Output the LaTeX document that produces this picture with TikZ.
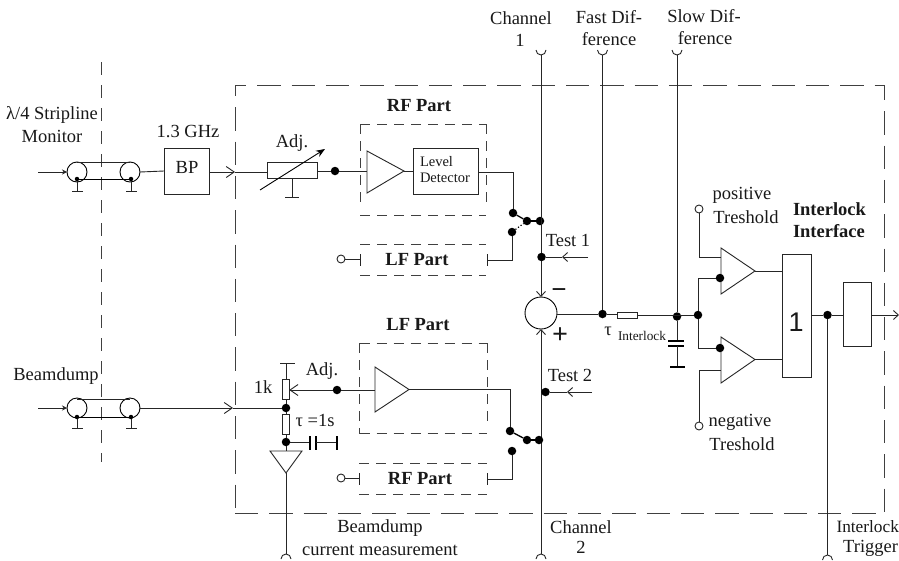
\documentclass[tikz,border=0pt]{standalone}
\usepackage{fontspec}
\setmainfont{Liberation Serif}
\newfontfamily\sansone{Liberation Sans}
\usetikzlibrary{arrows.meta}
\tikzset{
  wire/.style={line width=0.9pt,draw=black!85},
  arr/.style={wire,-{Straight Barb[length=5pt,width=9pt,line width=0.9pt]}},
  bigarr/.style={wire,-{Straight Barb[length=8pt,width=11pt,line width=0.9pt]}},
  inarr/.style={wire,-{Stealth[length=5pt,width=5pt]}},
  dot/.style={circle,fill=black,inner sep=0pt,minimum size=8.5pt,outer sep=0pt},
  smalldot/.style={circle,fill=black,inner sep=0pt,minimum size=4.5pt,outer sep=0pt},
  term/.style={circle,draw=black!85,line width=0.9pt,fill=white,inner sep=0pt,minimum size=8pt,outer sep=0pt},
  boxn/.style={draw=black!85,line width=0.9pt,inner sep=0pt,outer sep=0pt,fill=white},
  coup/.style={circle,draw=black,line width=0.9pt,inner sep=0pt,minimum size=20pt,outer sep=0pt},
  maindash/.style={line width=0.9pt,draw=black!75,dash pattern=on 23.3pt off 11pt},
  leftdash/.style={line width=0.9pt,draw=black!75,dash pattern=on 13pt off 10pt},
  subdash/.style={line width=0.9pt,draw=black!75,dash pattern=on 10pt off 7pt},
  txt/.style={inner sep=0pt,outer sep=0pt,font=\fontsize{18.5}{22}\selectfont,align=center,text=black!90},
  btxt/.style={txt,font=\fontsize{18.5}{22}\selectfont\bfseries},
  tiny/.style={txt,font=\fontsize{14.5}{16}\selectfont},
}
\begin{document}
\begin{tikzpicture}[x=1pt,y=-1pt]
\useasboundingbox (0,0) rectangle (899,560);
\clip (0,0) rectangle (899,560);
\fill[white] (0,0) rectangle (899,560);
% dashed frames
\draw[leftdash] (101,62) -- (101,462);
\draw[maindash,dash phase=12pt] (235,85) -- (884,85);
\draw[maindash,dash phase=12pt] (235,85) -- (235,513);
\draw[maindash,dash phase=8pt] (884,85) -- (884,513);
\draw[maindash] (235,513) -- (884,513);
\draw[subdash] (360,124) -- (486,124);
\draw[subdash] (360,124) -- (360,204);
\draw[subdash] (486,124) -- (486,204);
\draw[subdash] (360,215) -- (486,215);
\draw[subdash] (359.5,343) -- (487,343);
\draw[subdash] (359.5,343) -- (359.5,433.5);
\draw[subdash] (487,343) -- (487,425);
\draw[subdash] (359.5,433.5) -- (487,433.5);
\draw[subdash] (360,244) -- (486,244);
\draw[subdash] (360,275) -- (486,275);
\draw[subdash] (359,463) -- (487,463);
\draw[subdash] (359,494) -- (487,494);
% ---- upper coupler
\node[coup] (c1) at (77,172) {};
\node[coup] (c2) at (130,172) {};
\coordinate (c1t) at (77,162); \coordinate (c2t) at (130,162);
\node[smalldot] (c1b) at (77,179) {}; \node[smalldot] (c2b) at (131,179) {};
\draw[wire] (c1t) -- (c2t);
\draw[wire,draw=black] (c1b) -- (c2b);
\coordinate (g1) at (77,191); \coordinate (g2) at (131,191);
\draw[wire] (c1b) -- (g1) (72,191) -- (83,191);
\draw[wire] (c2b) -- (g2) (126,191) -- (137,191);
\coordinate (in1) at (38,172);
\draw[inarr] (in1) -- (c1.west);
% BP
\node[boxn,minimum width=45pt,minimum height=46pt] (bp) at (186.5,171) {};
\node[txt] (bpt) at (187,167) {BP};
\node[txt] (ghz) at (188,132) {1.3 GHz};
\draw[wire] (c2.east) -- (bp.west);
\coordinate (a1) at (235,172);
\node[boxn,minimum width=50pt,minimum height=16pt] (adjr) at (292,170) {};
\draw[bigarr] (bp.east |- a1) -- (a1);
\draw[wire] (a1) -- (adjr.west |- a1);
\coordinate (adjg) at (292,197);
\draw[wire] (adjr.south) -- (adjg) (285,197) -- (299,197);
\coordinate (ars) at (260,190); \coordinate (are) at (325,149);
\draw[line width=0.9pt,-{Stealth[length=9pt,width=7pt]}] (ars) -- (are);
\node[dot] (d1) at (335,171) {};
\draw[wire] (adjr.east |- d1) -- (d1);
\node[txt] (adjt) at (292,143) {Adj.};
\node[txt] (lam) at (52,115) {λ/4 Stripline};
\node[txt] (mon) at (52,136) {Monitor};
% RF part
\node[btxt] (rft) at (419,106) {RF Part};
\coordinate (t1a) at (367,151); \coordinate (t1b) at (367,193); \coordinate (t1c) at (404,171);
\draw[wire,fill=white] (t1a) -- (t1b) -- (t1c) -- cycle;
\draw[wire] (d1) -- (d1 -| t1a);
\node[boxn,minimum width=65pt,minimum height=46pt] (ld) at (445.5,171) {};
\draw[wire] (t1c) -- (ld.west |- t1c);
\node[tiny,anchor=west] (ld1) at (420,162) {Level};
\node[tiny,anchor=west] (ld2) at (420,178) {Detector};
\node[dot] (s1a) at (513,213) {};
\node[dot] (s1m) at (527,221) {};
\node[dot] (s1r) at (540,221) {};
\node[dot] (s1b) at (512,232) {};
\coordinate (ldo) at (513,172);
\draw[wire] (ld.east |- ldo) -- (ldo) -- (s1a);
\draw[line width=1.3pt] (s1a) -- (s1m);
\draw[line width=1.3pt] (s1m) -- (s1r);
\draw[line width=1.2pt,dotted] (s1b) -- (s1m);
\coordinate (lf1) at (512,260); \coordinate (lf1e) at (487,260);
\draw[wire] (s1b) -- (lf1) -- (lf1e) (487,254) -- (487,266);
\node[term] (lf1c) at (341,259) {};
\coordinate (lf1w) at (360,259);
\draw[wire] (lf1c) -- (lf1w) (360,254) -- (360,266);
\node[btxt] (lf1t) at (417,260) {LF Part};
% channel 1 / difference block
\node[circle,draw=black,line width=0.9pt,inner sep=0pt,minimum size=32pt,outer sep=0pt] (sum) at (541,313) {};
\coordinate (ch1) at (541,55);
\draw[arr] (ch1) -- (sum.north);
\draw[wire] (536,50) arc[start angle=180,end angle=0,radius=5];
\node[dot] (t1d) at (541.5,257) {};
\coordinate (t1i) at (588,257); \coordinate (t1h) at (562,257);
\draw[arr] (t1i) -- (t1h);
\draw[wire] (t1h) -- (t1d);
\node[txt] (t1t) at (568,240) {Test 1};
\node[txt] (ch1a) at (521,18) {Channel};
\node[txt] (ch1b) at (520,40) {1};
\node[txt] (fd1) at (609,17) {Fast Dif-};
\node[txt] (fd2) at (609,39) {ference};
\node[txt] (sd1) at (704,16) {Slow Dif-};
\node[txt] (sd2) at (705,38) {ference};
\node[txt,font=\fontsize{27}{27}\selectfont\bfseries] (minus) at (559,294) {−};
\node[txt,font=\fontsize{28}{28}\selectfont\bfseries] (plus) at (560,336) {+};
% lower channel
\coordinate (ch2) at (541,554);
\draw[arr] (ch2) -- (sum.south);
\draw[wire] (536,559) arc[start angle=180,end angle=360,radius=5];
\node[dot] (t2d) at (545.5,392) {};
\coordinate (t2i) at (592,392); \coordinate (t2h) at (567,392);
\draw[arr] (t2i) -- (t2h);
\draw[wire] (t2h) -- (t2d);
\node[txt] (t2t) at (570,375) {Test 2};
\node[txt] (ch2a) at (581,527) {Channel};
\node[txt] (ch2b) at (581,547) {2};
% lower coupler
\node[txt] (bd) at (56,376) {Beamdump};
\node[coup] (c3) at (77,408) {};
\node[coup] (c4) at (130,408) {};
\coordinate (c3t) at (77,399); \coordinate (c4t) at (130,399);
\node[smalldot] (c3b) at (77,417) {}; \node[smalldot] (c4b) at (131,417) {};
\draw[wire] (c3t) -- (c4t);
\draw[wire,draw=black] (c3b) -- (c4b);
\coordinate (g3) at (77,428); \coordinate (g4) at (131,428);
\draw[wire] (c3b) -- (g3) (72,428) -- (83,428);
\draw[wire] (c4b) -- (g4) (126,428) -- (137,428);
\coordinate (in3) at (38,408);
\draw[inarr] (in3) -- (c3.west);
\node[dot] (d2) at (286,408) {};
\coordinate (a2) at (233,408);
\draw[bigarr] (c4.east) -- (a2);
\draw[wire] (a2) -- (d2);
\node[boxn,minimum width=6.5pt,minimum height=20pt] (pot) at (286,389) {};
\coordinate (pt) at (286,363);
\draw[wire] (pot.south) -- (d2);
\draw[wire] (pot.north) -- (pt) (280,363) -- (295,363);
\node[dot] (d3) at (337,390) {};
\draw[bigarr] (d3) -- (pot.east |- d3);
\node[txt] (adj2) at (322,371) {Adj.};
\node[txt] (onek) at (263,387) {1k};
\node[boxn,minimum width=6.5pt,minimum height=20pt] (tr) at (286,424) {};
\node[dot] (d4) at (286,442) {};
\draw[wire] (d2) -- (tr.north);
\draw[wire] (tr.south) -- (d4);
\node[txt] (taus) at (315,420) {τ =1s};
\coordinate (cp1) at (310,442); \coordinate (cp2) at (316,442); \coordinate (cp3) at (337,442);
\draw[wire] (d4) -- (cp1);
\draw[wire,line width=1.2pt,draw=black] (310,436) -- (310,450) (316,436) -- (316,450);
\draw[wire] (cp2) -- (cp3);
\draw[wire,line width=1.2pt,draw=black] (337,436) -- (337,450);
\coordinate (b1) at (270,451); \coordinate (b2) at (302,451); \coordinate (b3) at (286,473);
\draw[wire] (d4) -- (286,451);
\draw[wire,fill=white] (b1) -- (b2) -- (b3) -- cycle;
\coordinate (bo) at (286,554);
\draw[wire] (b3) -- (bo);
\draw[wire] (281,559) arc[start angle=180,end angle=360,radius=5];
\node[txt] (bd2) at (380,528) {Beamdump};
\node[txt] (cm) at (380,550) {current measurement};
% LF part
\node[btxt] (lft) at (418,325) {LF Part};
\coordinate (t2a) at (375,367); \coordinate (t2b) at (375,412); \coordinate (t2c) at (409,389.5);
\draw[wire,fill=white] (t2a) -- (t2b) -- (t2c) -- cycle;
\draw[wire] (d3) -- (d3 -| t2a);
\node[dot] (s2a) at (510,431) {};
\node[dot] (s2m) at (527,440) {};
\node[dot] (s2r) at (539,440) {};
\node[dot] (s2b) at (512,451) {};
\coordinate (lfo) at (510,389.5);
\draw[wire] (t2c) -- (lfo) -- (s2a);
\draw[line width=1.3pt] (s2a) -- (s2m);
\draw[line width=1.3pt] (s2m) -- (s2r);
\coordinate (rf2) at (512,479); \coordinate (rf2e) at (487,479);
\draw[wire] (s2b) -- (rf2) -- (rf2e) (487,473) -- (487,485);
\node[term] (rf2c) at (341,478) {};
\coordinate (rf2w) at (359,478);
\draw[wire] (rf2c) -- (rf2w) (359,473) -- (359,485);
\node[btxt] (rf2t) at (420,479) {RF Part};
% difference
\node[dot] (fd) at (602.5,314) {};
\node[dot] (sd) at (677,316.5) {};
\node[dot] (j) at (698,315) {};
\node[boxn,minimum width=20pt,minimum height=6pt] (tir) at (627,315) {};
\draw[wire] (sum.east |- fd) -- (fd);
\draw[wire] (fd) -- (tir.west |- fd);
\draw[wire] (tir.east) -- (j);
\coordinate (fdt) at (602.5,55); \coordinate (sdt) at (677,55);
\draw[wire] (fdt) -- (fd.north);
\draw[wire] (sdt) -- (sd.north);
\draw[wire] (597.5,50) arc[start angle=180,end angle=0,radius=5];
\draw[wire] (672,50) arc[start angle=180,end angle=0,radius=5];
\node[txt] (tau) at (608,331) {τ};
\node[txt,font=\fontsize{13.3}{14}\selectfont] (til) at (642,336) {Interlock};
\coordinate (cap1) at (677,341); \coordinate (cap2) at (677,346); \coordinate (capg) at (677,367);
\draw[wire] (sd) -- (cap1);
\draw[wire,draw=black,line width=1.2pt] (668,341) -- (684,341) (668,346) -- (684,346);
\draw[wire] (cap2) -- (capg);
\draw[wire,draw=black,line width=1.2pt] (670,367) -- (685,367);
% comparators
\coordinate (k1a) at (721,248); \coordinate (k1b) at (721,294); \coordinate (k1c) at (755,271);
\coordinate (k2a) at (721,337); \coordinate (k2b) at (721,383); \coordinate (k2c) at (755,359.5);
\draw[wire,fill=white] (k1a) -- (k1b) -- (k1c) -- cycle;
\draw[wire,fill=white] (k2a) -- (k2b) -- (k2c) -- cycle;
\node[dot] (k1d) at (720,278) {};
\node[dot] (k2d) at (720,348) {};
\draw[wire] (j) |- (k1d);
\draw[wire] (j) |- (k2d);
\node[term] (pos) at (699,209) {};
\node[term] (neg) at (699,426) {};
\coordinate (pi1) at (721,257); \coordinate (ni1) at (721,370);
\draw[wire] (pos) |- (pi1);
\draw[wire] (neg) |- (ni1);
\node[boxn,minimum width=29pt,minimum height=123pt] (orb) at (796.5,315.5) {};
\node[txt,font=\fontsize{27}{27}\sansone] (ort) at (796,322) {1};
\draw[wire] (k1c) -- (orb.west |- k1c);
\draw[wire] (k2c) -- (orb.west |- k2c);
\node[dot] (q) at (827.5,315) {};
\draw[wire] (orb.east |- q) -- (q);
\node[boxn,minimum width=28pt,minimum height=64pt] (trg) at (857,314) {};
\draw[wire] (q) -- (trg.west |- q);
\coordinate (outp) at (899,315);
\draw[arr] (trg.east |- outp) -- (outp);
\coordinate (qb) at (827.5,555);
\draw[wire] (q) -- (qb);
\draw[wire] (822.5,560) arc[start angle=180,end angle=360,radius=5];
\node[txt] (pt1) at (742,195) {positive};
\node[txt] (pt2) at (746,217) {Treshold};
\node[btxt,anchor=west] (il1) at (793,209) {Interlock};
\node[btxt,anchor=west] (il2) at (793,231) {Interface};
\node[txt] (nt1) at (740,422) {negative};
\node[txt] (nt2) at (742,444) {Treshold};
\node[txt,font=\fontsize{17.3}{20}\selectfont,anchor=west] (it1) at (836.5,527) {Interlock};
\node[txt,anchor=east] (it2) at (898,548) {Trigger};
\end{tikzpicture}
\end{document}
